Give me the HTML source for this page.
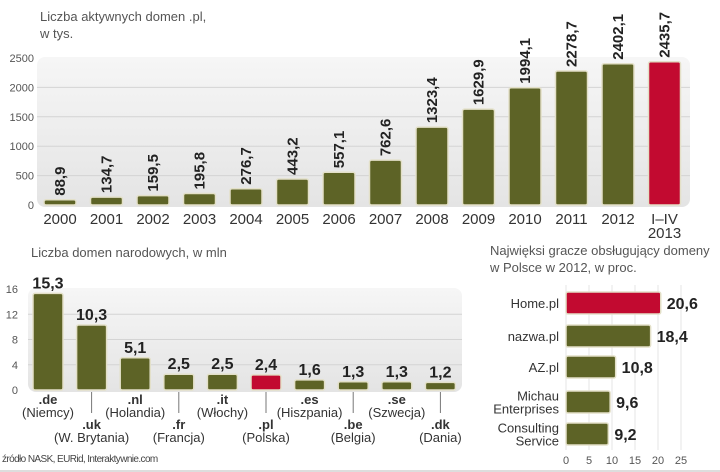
<!DOCTYPE html>
<html><head><meta charset="utf-8"><style>
body{margin:0;background:#fff;}
svg{display:block;font-family:"Liberation Sans",sans-serif;}
.ax{font-size:11px;fill:#555;}
.val{font-size:15px;font-weight:bold;fill:#222;}
.cat{font-size:15px;fill:#333;}
.ttl{font-size:13px;fill:#555;}
</style></head><body>
<svg id="c" width="720" height="472">
<defs>
<linearGradient id="pg" x1="0" y1="0" x2="0" y2="1"><stop offset="0" stop-color="#f6f6f6"/><stop offset="1" stop-color="#e4e4e4"/></linearGradient>
</defs>
<text class="ttl" x="40" y="21">Liczba aktywnych domen .pl,</text>
<text class="ttl" x="40" y="38">w tys.</text>
<rect x="37" y="57" width="653" height="150" rx="8" fill="url(#pg)"/>
<g id="g1"></g>
<text class="ttl" x="31" y="257">Liczba domen narodowych, w mln</text>
<rect x="28" y="288" width="434" height="104" rx="8" fill="url(#pg)"/>
<g id="g2"></g>
<text class="ttl" x="490" y="255">Najwięksi gracze obsługujący domeny</text>
<text class="ttl" x="490" y="272">w Polsce w 2012, w proc.</text>
<g id="g3"></g>
<text x="2" y="462" font-size="10" fill="#444" letter-spacing="-0.6">źródło NASK, EURid, Interaktywnie.com</text>
<rect x="0" y="470" width="720" height="2" fill="#ddd"/>
</svg>
<script>
const years=["2000","2001","2002","2003","2004","2005","2006","2007","2008","2009","2010","2011","2012","I–IV|2013"];
const domains=[88.9,134.7,159.5,195.8,276.7,443.2,557.1,762.6,1323.4,1629.9,1994.1,2278.7,2402.1,2435.7];
const domainLabels=["88,9","134,7","159,5","195,8","276,7","443,2","557,1","762,6","1323,4","1629,9","1994,1","2278,7","2402,1","2435,7"];
const yTicks1=[0,500,1000,1500,2000,2500];
const tlds=[".de",".uk",".nl",".fr",".it",".pl",".es",".be",".se",".dk"];
const countries=["(Niemcy)","(W. Brytania)","(Holandia)","(Francja)","(Włochy)","(Polska)","(Hiszpania)","(Belgia)","(Szwecja)","(Dania)"];
const counts=[15.3,10.3,5.1,2.5,2.5,2.4,1.6,1.3,1.3,1.2];
const countLabels=["15,3","10,3","5,1","2,5","2,5","2,4","1,6","1,3","1,3","1,2"];
const yTicks2=[0,4,8,12,16];
const players=["Home.pl","nazwa.pl","AZ.pl","Michau|Enterprises","Consulting|Service"];
const shares=[20.6,18.4,10.8,9.6,9.2];
const shareLabels=["20,6","18,4","10,8","9,6","9,2"];
const xTicks3=[0,5,10,15,20,25];
const OLIVE="#5d6326",RED="#c20a30",EDGE="#e3e0c8";
const NS="http://www.w3.org/2000/svg";
function mk(p,t,a,txt){const e=document.createElementNS(NS,t);for(const k in a)e.setAttribute(k,a[k]);if(txt!=null)e.textContent=txt;p.appendChild(e);return e;}
// chart 1
const g1=document.getElementById('g1');
const y1=v=>205-v*(147/2500), x1=i=>60+i*46.5;
yTicks1.forEach(t=>{
 if(t>0&&t<2500){const l=mk(g1,'line',{x1:37,x2:690,y1:y1(t),y2:y1(t),stroke:'#d4d4d4'});
 
 }
 const e=mk(g1,'text',{x:34,y:y1(t)+4,'text-anchor':'end',class:'ax'},t);
 
 
});
domains.forEach((v,i)=>{
 const cx=x1(i),top=y1(v),last=i===domains.length-1;
 const r=mk(g1,'rect',{x:cx-16,y:top,width:32,height:205-top,rx:2,fill:last?RED:OLIVE,stroke:EDGE,'stroke-width':1.5});
 
 
 const t=mk(g1,'text',{class:'val',transform:`translate(${cx+5},${top-4}) rotate(-90)`},domainLabels[i]);
 
 
 const parts=years[i].split('|');
 parts.forEach((p,j)=>{const c=mk(g1,'text',{x:cx,y:224+j*14,'text-anchor':'middle',class:'cat'},p);
 
 });
});
// chart 2
const g2=document.getElementById('g2');
const y2=v=>390-v*(101/16), x2=i=>48+i*43.6;
yTicks2.forEach(t=>{
 if(t>0&&t<16){const l=mk(g2,'line',{x1:28,x2:462,y1:y2(t),y2:y2(t),stroke:'#d4d4d4'});
 
 }
 const e=mk(g2,'text',{x:18,y:y2(t)+4,'text-anchor':'end',class:'ax'},t);
 
 
});
counts.forEach((v,i)=>{
 const cx=x2(i),top=y2(v);
 const r=mk(g2,'rect',{x:cx-15,y:top,width:30,height:390-top,rx:2,fill:i===5?RED:OLIVE,stroke:EDGE,'stroke-width':1.5});
 
 
 const t=mk(g2,'text',{x:cx,y:top-5,'text-anchor':'middle',class:'val',style:'font-size:16px'},countLabels[i]);
 
 
 const off=i%2?25:0;
 if(off){const l=mk(g2,'line',{x1:cx,x2:cx,y1:392,y2:413,stroke:'#777'});
 
 }
 const a=mk(g2,'text',{x:cx,y:404+off,'text-anchor':'middle',class:'cat',style:'font-size:13px;font-weight:bold'},tlds[i]);
 
 
 const b=mk(g2,'text',{x:cx,y:417+off,'text-anchor':'middle',class:'cat',style:'font-size:13px'},countries[i]);
 
 
});
// chart 3
const g3=document.getElementById('g3');
const x3=v=>566+v*4.6, y3=i=>[303,336,367,402,434][i];
xTicks3.forEach(t=>{
 const l=mk(g3,'line',{x1:x3(t),x2:x3(t),y1:285,y2:450,stroke:'#e4e4e4'});
 
 
 const e=mk(g3,'text',{x:x3(t),y:464,'text-anchor':'middle',class:'ax'},t);
 
 
});
shares.forEach((v,i)=>{
 const cy=y3(i);
 const r=mk(g3,'rect',{x:566,y:cy-11,width:x3(v)-566,height:22,rx:2,fill:i===0?RED:OLIVE,stroke:EDGE,'stroke-width':1.5});
 
 
 const t=mk(g3,'text',{x:x3(v)+6,y:cy+6,class:'val',style:'font-size:16px'},shareLabels[i]);
 
 
 const parts=players[i].split('|');
 parts.forEach((p,j)=>{const c=mk(g3,'text',{x:559,y:cy+5+(j-(parts.length-1)/2)*13,'text-anchor':'end',class:'cat',style:'font-size:13px'},p);
 
 });
});
</script>
</body></html>
